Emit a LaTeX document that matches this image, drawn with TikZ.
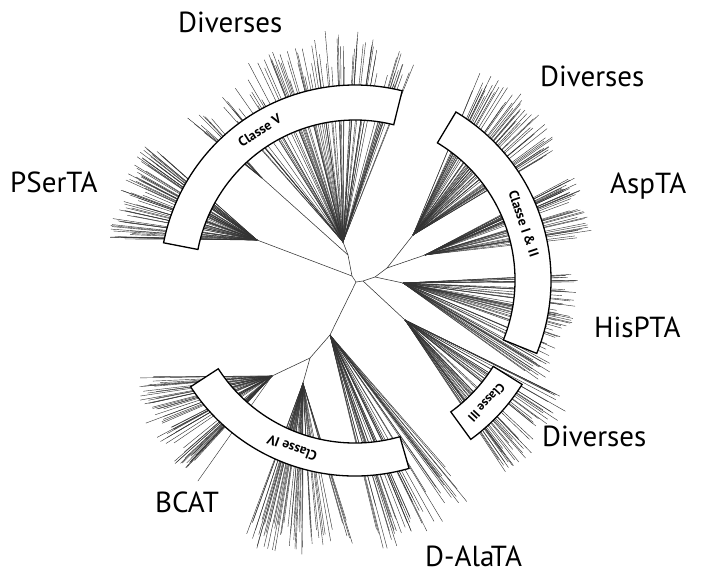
\documentclass[tikz,border=0pt]{standalone}
\usepackage{fontspec}
\setmainfont{PT Sans}
\newcommand{\bandfont}{\bfseries\fontsize{13.5}{14}\selectfont}
\newcommand{\leaffan}[6]{%
  \foreach \k in {1,...,#6}{%
    \pgfmathsetmacro{\fa}{#2+(#3-#2)*rnd}%
    \pgfmathsetmacro{\fl}{#4+(#5-#4)*rnd}%
    \draw[leaf] (#1) -- ++(\fa:\fl);%
  }}
\newcommand{\classband}[7]{%
  \pgfmathsetmacro{\rt}{(#3+#4)/2}%
  \pgfmathsetmacro{\am}{(#1+#2)/2}%
  \pgfmathsetmacro{\rot}{\am-90}%
  \draw[band] (#1:#3) arc[start angle=#1,end angle=#2,radius=#3]
     -- (#2:#4) arc[start angle=#2,end angle=#1,radius=#4] -- cycle;
  \node[bandtext,font=#7,rotate=\rot] (#6) at (\am:\rt) {#5};
}
\begin{document}
\begin{tikzpicture}[x=1pt,y=1pt,
  leaf/.style={line width=0.42pt, draw=black!80},
  skel/.style={line width=0.55pt, draw=black!80},
  band/.style={draw=black, line width=1.3pt, fill=white, line join=miter},
  bandtext/.style={inner sep=0pt, anchor=center},
  lab/.style={font=\fontsize{29}{29}\selectfont, anchor=base west, inner sep=0pt}]
\useasboundingbox (0,0) rectangle (707,-573);
\pgfmathsetseed{4242}
% skeleton nodes
\coordinate (n0) at (356,-282);
\coordinate (nB) at (352,-276);
\coordinate (nV1) at (348,-255);
\coordinate (oV) at (343,-242);
\coordinate (oPS) at (257,-240);
\coordinate (oUL) at (262,-178);
\coordinate (nC) at (363,-281);
\coordinate (nC1) at (375,-277);
\coordinate (nC2) at (387,-268);
\coordinate (oNE) at (413,-235);
\coordinate (oAsp) at (425,-255);
\coordinate (oHis) at (403,-283);
\coordinate (oIII) at (405,-320);
\coordinate (nE) at (330,-335);
\coordinate (nE2) at (310,-358);
\coordinate (oBC) at (272,-376);
\coordinate (oLow) at (303,-383);
% skeleton
\draw[skel] (n0) -- (nB) -- (nV1) -- (oV);
\draw[skel] (nB) -- (oPS);
\draw[skel] (nV1) -- (oUL);
\draw[skel] (n0) -- (nC) -- (nC1) -- (nC2) -- (oNE);
\draw[skel] (nC2) -- (oAsp);
\draw[skel] (nC1) -- (oHis);
\draw[skel] (nC) -- (oIII);
\draw[skel] (n0) -- (nE) -- (nE2) -- (oBC);
\draw[skel] (nE2) -- (oLow);
% Classe V
\leaffan{oV}{68}{80}{165}{205}{14}
\leaffan{oV}{80}{100}{175}{212}{28}
\leaffan{oV}{100}{118}{170}{205}{22}
\leaffan{oV}{118}{132}{160}{198}{14}
\leaffan{oUL}{130}{142}{70}{100}{9}
% PSerTA
\leaffan{oPS}{138}{150}{125}{148}{20}
\leaffan{oPS}{150}{165}{120}{145}{24}
\leaffan{oPS}{165}{180}{125}{148}{26}
% NE Diverses
\leaffan{oNE}{30}{48}{150}{175}{25}
\leaffan{oNE}{48}{70}{155}{178}{28}
% AspTA
\leaffan{oAsp}{5}{28}{150}{170}{40}
% HisPTA
\leaffan{oHis}{-36}{-15}{150}{172}{28}
\leaffan{oHis}{-15}{3}{155}{175}{30}
% Classe III
\leaffan{oIII}{-58}{-25}{160}{185}{44}
% D-AlaTA
\leaffan{nE}{-77}{-48}{175}{222}{45}
% lower fan
\leaffan{oLow}{-112}{-72}{140}{172}{50}
% BCAT
\leaffan{oBC}{180}{205}{112}{135}{30}
\leaffan{oBC}{205}{235}{110}{132}{30}
% bands
\begin{scope}[shift={(355,-280)}]
  \classband{76}{169}{160}{195}{Classe V}{tV}{\bandfont}
  \classband{-22}{59}{160}{196}{Classe I \& II}{tI}{\bandfont}
  \classband{-54}{-32}{163}{197}{Classe III}{tIII}{\bfseries\fontsize{12.5}{13}\selectfont}
  \classband{-147}{-74}{163}{196}{Classe IV}{tIV}{\bandfont}
\end{scope}
% labels
\node[lab] (l1) at (178,-32) {Diverses};
\node[lab] (l2) at (540,-86) {Diverses};
\node[lab] (l3) at (10,-192) {PSerTA};
\node[lab] (l4) at (610,-193) {AspTA};
\node[lab] (l5) at (594,-337) {HisPTA};
\node[lab] (l6) at (542,-446) {Diverses};
\node[lab] (l7) at (155,-512) {BCAT};
\node[lab] (l8) at (425,-566) {D-AlaTA};
\end{tikzpicture}
\end{document}
